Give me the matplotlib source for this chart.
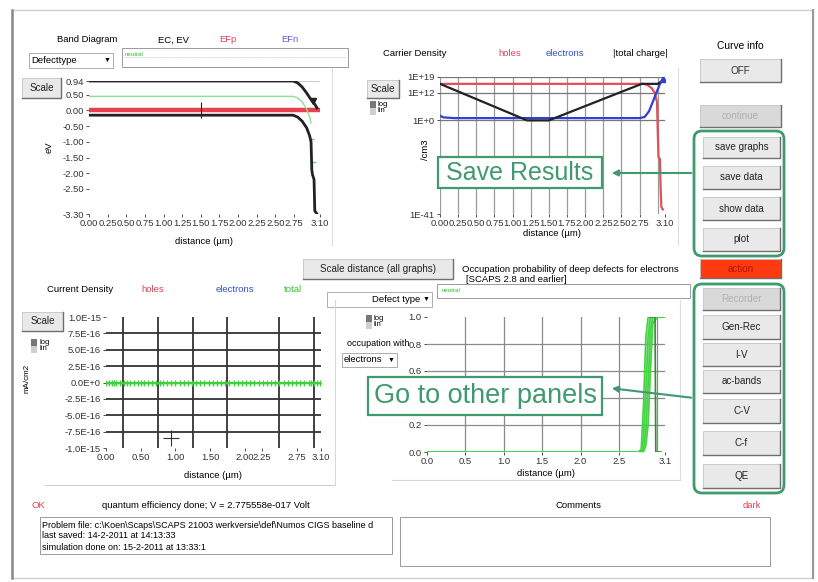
import matplotlib.pyplot as plt
import numpy as np
from matplotlib.patches import Rectangle, FancyBboxPatch

plt.rcParams['font.family'] = ['Liberation Sans', 'DejaVu Sans']

W, H = 818, 582
GREEN = '#3f9a6e'
FS = 6.8

# ---- band diagram (eV vs distance, um)
ec_x = [0.0, 1.0, 2.0, 2.74, 2.80, 2.86, 2.92, 2.97, 3.00, 3.03, 3.06]
ec_y = [0.94, 0.94, 0.94, 0.94, 0.88, 0.75, 0.56, 0.38, 0.28, 0.20, 0.08]
ev_x = [0.0, 1.0, 2.0, 2.74, 2.80, 2.86, 2.92, 2.96, 2.98, 2.99, 3.00, 3.02, 3.03, 3.06]
ev_y = [-0.15, -0.15, -0.15, -0.15, -0.21, -0.34, -0.55, -0.80, -1.00, -1.90, -2.05, -2.20, -3.20, -3.30]
ei_x = [0.0, 1.0, 2.0, 2.74, 2.80, 2.86, 2.92, 2.96, 2.98]
ei_y = [0.45, 0.45, 0.45, 0.45, 0.40, 0.28, 0.05, -0.20, -0.40]
ei_dot_x = [2.99, 3.02]
ei_dot_y = [-0.90, -1.65]
ef_x = [0.0, 3.07]
ef_y = [0.0, 0.0]
bd_xticks = [0.0, 0.25, 0.5, 0.75, 1.0, 1.25, 1.5, 1.75, 2.0, 2.25, 2.5, 2.75, 3.10]
bd_yticks = [0.94, 0.50, 0.00, -0.50, -1.00, -1.50, -2.00, -2.50, -3.30]

# ---- carrier density, log10(/cm3)
holes_x = [0.0, 2.80, 2.86, 2.92, 2.96, 2.99, 3.00, 3.01, 3.03, 3.04, 3.05, 3.07]
holes_exp = [16, 16, 15.5, 14, 12, 8, -5, -16, -17, -30, -38, -39]
elec_x = [0.0, 0.05, 0.2, 2.75, 2.82, 2.88, 2.93, 2.98, 3.03, 3.07]
elec_exp = [2, 1.3, 1, 1, 1.5, 4, 8, 12, 16, 18]
charge_x = [0.0, 1.2, 1.5, 2.78, 2.85, 3.0, 3.05, 3.07]
charge_exp = [16, 0, 0, 16, 16, 16, 17, 18]
cd_yticks = [1e19, 1e12, 1e0, 1e-41]
cd_ylabels = ['1E+19', '1E+12', '1E+0', '1E-41']

# ---- current density (mA/cm2), all zero at V = 0
cur_x = [0.0, 0.04, 0.08, 0.12, 0.15, 0.2, 0.26, 0.3, 0.34, 0.4, 0.46, 0.5, 0.55, 0.6,
         0.66, 0.72, 0.78, 0.82, 0.88, 0.94, 1.0, 1.06, 1.12, 1.18, 1.24, 1.3, 1.36,
         1.42, 1.48, 1.54, 1.6, 1.66, 1.72, 1.78, 1.84, 1.9, 1.96, 2.02, 2.08, 2.14,
         2.2, 2.26, 2.32, 2.38, 2.44, 2.5, 2.56, 2.62, 2.68, 2.74, 2.8, 2.86, 2.92,
         2.96, 3.0, 3.04, 3.08]
cur_total = [0.0] * len(cur_x)
cur_xticks = [0.0, 0.5, 1.0, 1.5, 2.0, 2.25, 2.75, 3.10]
cur_yticks = [1e-15, 7.5e-16, 5e-16, 2.5e-16, 0.0, -2.5e-16, -5e-16, -7.5e-16, -1e-15]
cur_ylabels = ['1.0E-15', '7.5E-16', '5.0E-16', '2.5E-16', '0.0E+0',
               '-2.5E-16', '-5.0E-16', '-7.5E-16', '-1.0E-15']
cur_grid = [0.25, 0.5, 0.75, 1.0, 1.25, 1.5, 1.75, 2.0, 2.25, 2.5, 2.75, 3.0]

# ---- occupation probability of the neutral defect
occ_x = [0.0, 2.75, 2.79, 2.82, 2.85, 2.88, 2.91, 2.94, 3.0, 3.05, 3.1]
occ_a = [0, 0, 0.02, 0.35, 0.85, 1, 1, 1, 1, 1, 1]
occ_b = [0, 0, 0, 0.10, 0.45, 0.85, 1, 1, 1, 1, 1]
occ_c = [0, 0, 0, 0.02, 0.15, 0.50, 0.90, 1, 1, 1, 1]
occ_d = [0, 0, 0, 0, 0.05, 0.20, 0.60, 0.95, 1, 1, 1]
occ_edge_x = [2.9, 2.97, 2.98, 3.05]
occ_edge_y = [1.0, 1.0, 0.0, 0.0]
occ_xticks = [0.0, 0.5, 1.0, 1.5, 2.0, 2.5, 3.1]
occ_yticks = [0.0, 0.2, 0.4, 0.6, 0.8, 1.0]
occ_ylabels = ['0.0', '0.2', '', '0.6', '0.8', '1.0']  # 0.4 sits under the callout

fig = plt.figure(figsize=(W / 100, H / 100), dpi=100)
fig.patch.set_facecolor('white')

ui = fig.add_axes([0, 0, 1, 1], zorder=0)
ui.set_xlim(0, W)
ui.set_ylim(H, 0)
ui.axis('off')


def panel_axes(x0, y0, x1, y1):
    ax = fig.add_axes([x0 / W, 1 - y1 / H, (x1 - x0) / W, (y1 - y0) / H], zorder=2)
    ax.patch.set_alpha(0)
    for s in ax.spines.values():
        s.set_visible(False)
    ax.tick_params(labelsize=FS, length=2.5, width=0.6, pad=1.2, colors='#333333')
    ax.set_xlim(0, 3.1)
    return ax


def button(x0, y0, x1, y1, label, fc='#e9e9e9', tc='#222222'):
    ui.add_patch(Rectangle((x0, y0), x1 - x0, y1 - y0, fc=fc, ec='#c4c4c4', lw=0.6))
    ui.plot([x0, x1, x1], [y1, y1, y0], color='#6f6f6f', lw=1.0)
    ui.text((x0 + x1) / 2, (y0 + y1) / 2, label, ha='center', va='center',
            fontsize=FS + 0.3, color=tc)


def dropdown(x0, y0, x1, y1, label, right=False):
    ui.add_patch(Rectangle((x0, y0), x1 - x0, y1 - y0, fc='white', ec='#a0a0a0', lw=0.6))
    if right:
        ui.text(x1 - 12, (y0 + y1) / 2, label, ha='right', va='center', fontsize=FS)
    else:
        ui.text(x0 + 2, (y0 + y1) / 2, label, ha='left', va='center', fontsize=FS)
    ui.text(x1 - 6, (y0 + y1) / 2, '▼', ha='center', va='center', fontsize=5)


def loglin(x, y, log_on=True):
    ui.add_patch(Rectangle((x, y), 6, 7, fc='#777777' if log_on else '#cfcfcf', lw=0))
    ui.add_patch(Rectangle((x, y + 7), 6, 7, fc='#cfcfcf' if log_on else '#777777', lw=0))
    ui.text(x + 8, y + 3.5, 'log', fontsize=5.5, va='center')
    ui.text(x + 8, y + 9.5, 'lin', fontsize=5.5, va='center')


def textbox(x0, y0, x1, y1):
    ui.add_patch(Rectangle((x0, y0), x1 - x0, y1 - y0, fc='white', ec='#9a9a9a', lw=0.7))


# outer window frame
ui.add_patch(Rectangle((12, 10), 801, 568, fc='white', ec='#cfcfcf', lw=1.0))
ui.plot([12, 12], [10, 578], color='#8a8a8a', lw=1.8)
ui.plot([813, 813], [10, 578], color='#9a9a9a', lw=1.5)

# panel borders
ui.plot([332, 332], [68, 245], color='#dddddd', lw=0.8)
ui.plot([678, 678], [68, 245], color='#dddddd', lw=0.8)
ui.plot([45, 335], [485, 485], color='#d0d0d0', lw=0.8)
ui.plot([335, 335], [300, 485], color='#d8d8d8', lw=0.8)
ui.plot([680, 680], [300, 480], color='#dddddd', lw=0.8)
ui.plot([392, 680], [480, 480], color='#d8d8d8', lw=0.8)

# ---------------- band diagram panel
ui.text(87, 40, 'Band Diagram', ha='center', va='center', fontsize=FS)
ui.text(174, 40, 'EC, EV', ha='center', va='center', fontsize=FS)
ui.text(228, 40, 'EFp', ha='center', va='center', fontsize=FS, color='#e0405a')
ui.text(290, 40, 'EFn', ha='center', va='center', fontsize=FS, color='#6060d0')
dropdown(29, 53, 113, 68, 'Defecttype')
textbox(122, 48, 348, 67)
ui.plot([124, 346], [57, 57], color='#bbbbbb', lw=0.5, ls=(0, (1, 1)))
ui.text(125, 55, 'neutral', fontsize=4.5, color='#30c030', va='center')
button(22, 78, 61, 98, 'Scale')
ui.text(49, 147, 'eV', rotation=90, ha='center', va='center', fontsize=FS)
ui.text(204, 241, 'distance (µm)', ha='center', va='center', fontsize=FS)

ax1 = panel_axes(89, 81, 320, 214)
ax1.set_ylim(-3.3, 0.94)
ax1.plot([0, 3.1], [0.94, 0.94], color='#cccccc', lw=0.8)
ax1.plot(ef_x, ef_y, color='#e8404f', lw=3.2)
ax1.plot(ei_x, ei_y, color='#8ee08e', lw=1.0)
ax1.plot(ei_dot_x, ei_dot_y, ls='none', marker='_', color='#60d060', ms=3)
ax1.plot(ec_x, ec_y, color='#222222', lw=2.0)
ax1.plot(ev_x, ev_y, color='#222222', lw=2.0)
ax1.plot([3.0], [0.3], marker='v', color='#222222', ms=4)
ax1.plot([1.5], [0.0], marker='|', color='#222222', ms=12, mew=0.8)
ax1.set_xticks(bd_xticks)
ax1.set_xticklabels(['%.2f' % v for v in bd_xticks])
ax1.set_yticks(bd_yticks)
ax1.set_yticklabels(['%.2f' % v for v in bd_yticks])

# ---------------- carrier density panel
ui.text(415, 53, 'Carrier Density', ha='center', va='center', fontsize=FS)
ui.text(510, 53, 'holes', ha='center', va='center', fontsize=FS, color='#e0405a')
ui.text(565, 53, 'electrons', ha='center', va='center', fontsize=FS, color='#3050d0')
ui.text(640, 53, '|total charge|', ha='center', va='center', fontsize=FS)
button(367, 80, 399, 98, 'Scale')
loglin(370, 101)
ui.text(425, 150, '/cm3', rotation=90, ha='center', va='center', fontsize=FS)
ui.text(552, 234, 'distance (µm)', ha='center', va='center', fontsize=FS)

ax2 = panel_axes(440, 77, 665, 214)
ax2.set_yscale('log')
ax2.set_ylim(1e-41, 1e19)
for gx in bd_xticks[:-1] + [3.0]:
    ax2.axvline(gx, color='#9a9a9a', lw=0.9)
for gy in cd_yticks[:3]:
    ax2.axhline(gy, color='#777777', lw=0.9)
ax2.plot(holes_x, 10.0 ** np.array(holes_exp), color='#e0505a', lw=1.6)
ax2.plot(elec_x, 10.0 ** np.array(elec_exp), color='#3040d0', lw=1.6)
ax2.plot(charge_x, 10.0 ** np.array(charge_exp), color='#222222', lw=1.6)
ax2.plot([3.07], [1e18], marker='^', color='#3040d0', ms=4)
ax2.set_xticks(bd_xticks)
ax2.set_xticklabels(['%.2f' % v for v in bd_xticks])
ax2.set_yticks(cd_yticks)
ax2.set_yticklabels(cd_ylabels)
ax2.minorticks_off()

# ---------------- right column of buttons
ui.text(740, 46, 'Curve info', ha='center', va='center', fontsize=FS + 0.6)
button(700, 59, 781, 82, 'OFF', tc='#333333')
button(700, 105, 781, 127, 'continue', fc='#d9d9d9', tc='#b0b0b0')
button(703, 137, 780, 158, 'save graphs')
button(703, 166, 780, 189, 'save data')
button(703, 197, 780, 220, 'show data')
button(703, 228, 780, 251, 'plot')
button(700, 259, 781, 278, 'action', fc='#ff3a10', tc='#b01800')
button(703, 288, 780, 310, 'Recorder', fc='#d9d9d9', tc='#b0b0b0')
button(703, 315, 780, 339, 'Gen-Rec')
button(703, 343, 780, 366, 'I-V')
button(703, 370, 780, 393, 'ac-bands')
button(703, 399, 780, 423, 'C-V')
button(703, 431, 780, 455, 'C-f')
button(703, 464, 780, 488, 'QE')

# ---------------- current density panel
ui.text(80, 290, 'Current Density', ha='center', va='center', fontsize=FS)
ui.text(153, 290, 'holes', ha='center', va='center', fontsize=FS, color='#e0405a')
ui.text(235, 290, 'electrons', ha='center', va='center', fontsize=FS, color='#3050d0')
ui.text(293, 290, 'total', ha='center', va='center', fontsize=FS, color='#30c030')
button(22, 312, 63, 331, 'Scale')
loglin(31, 339)
ui.text(27, 378, 'mA/cm2', rotation=90, ha='center', va='center', fontsize=FS - 1)
ui.text(213, 476, 'distance (µm)', ha='center', va='center', fontsize=FS)

ax3 = panel_axes(106, 317, 321, 448)
ax3.set_ylim(-1e-15, 1e-15)
ax3.set_xticks(cur_grid, minor=True)
ax3.grid(which='minor', axis='x', color='#333333', lw=1.3)
for gy in cur_yticks[1:-1]:
    ax3.axhline(gy, color='#333333', lw=1.3)
ax3.plot(cur_x, cur_total, color='#40d040', lw=1.4, marker='+', ms=5, mew=1.0)
ax3.plot([0.93], [-8.5e-16], marker='+', color='#333333', ms=12, mew=0.8)
ax3.tick_params(which='minor', length=0)
ax3.set_xticks(cur_xticks)
ax3.set_xticklabels(['%.2f' % v for v in cur_xticks])
ax3.set_yticks(cur_yticks)
ax3.set_yticklabels(cur_ylabels)

# ---------------- occupation panel
button(303, 259, 453, 279, 'Scale distance (all graphs)')
ui.text(462, 269, 'Occupation probability of deep defects for electrons', va='center', fontsize=FS)
ui.text(466, 280, '[SCAPS 2.8 and earlier]', va='center', fontsize=FS)
dropdown(327, 292, 432, 307, 'Defect type', right=True)
textbox(437, 284, 690, 298)
ui.text(442, 290, 'neutral', fontsize=4.5, color='#30c030', va='center')
loglin(366, 315)
ui.text(378, 343, 'occupation with', ha='center', va='center', fontsize=FS - 0.3)
dropdown(342, 353, 397, 367, 'electrons')
ui.text(546, 474, 'distance (µm)', ha='center', va='center', fontsize=FS)

ax4 = panel_axes(427, 317, 665, 452)
ax4.set_ylim(0, 1)
for gx in occ_xticks[1:-1] + [3.0]:
    ax4.axvline(gx, color='#8a8a8a', lw=0.9)
for gy in occ_yticks[1:-1]:
    ax4.axhline(gy, color='#8a8a8a', lw=0.9)
ax4.fill_between(occ_x, occ_a, occ_d, color='#9be89b', lw=0)
for occ in (occ_a, occ_b, occ_c, occ_d):
    ax4.plot(occ_x, occ, color='#44d444', lw=1.2)
ax4.plot(occ_edge_x, occ_edge_y, color='#2f8f2f', lw=1.2)
ax4.set_xticks(occ_xticks)
ax4.set_xticklabels(['%.1f' % v for v in occ_xticks])
ax4.set_yticks(occ_yticks)
ax4.set_yticklabels(occ_ylabels)

# ---------------- status line and text boxes
ui.text(38, 505, 'OK', ha='center', va='center', fontsize=FS, color='#e04050')
ui.text(206, 505, 'quantum efficiency done; V = 2.775558e-017 Volt', ha='center',
        va='center', fontsize=FS)
ui.text(578, 505, 'Comments', ha='center', va='center', fontsize=FS)
ui.text(752, 505, 'dark', ha='center', va='center', fontsize=FS, color='#e04050')
textbox(40, 517, 392, 554)
ui.text(42, 525, r'Problem file: c:\Koen\Scaps\SCAPS 21003 werkversie\def\Numos CIGS baseline d',
        va='center', fontsize=FS - 0.3)
ui.text(42, 535, 'last saved: 14-2-2011 at 14:13:33', va='center', fontsize=FS - 0.3)
ui.text(42, 547, 'simulation done on: 15-2-2011 at 13:33:1', va='center', fontsize=FS - 0.3)
textbox(400, 517, 770, 566)

# ---------------- callouts
top = fig.add_axes([0, 0, 1, 1], zorder=10)
top.set_xlim(0, W)
top.set_ylim(H, 0)
top.axis('off')
top.add_patch(FancyBboxPatch((694, 131), 90, 125, boxstyle='round,pad=0,rounding_size=8',
                             fc='none', ec=GREEN, lw=2.0))
top.add_patch(FancyBboxPatch((694, 284), 90, 209, boxstyle='round,pad=0,rounding_size=8',
                             fc='none', ec=GREEN, lw=2.0))
top.add_patch(Rectangle((438, 157), 164, 31, fc='white', ec=GREEN, lw=1.6))
top.text(520, 173, 'Save Results', ha='center', va='center', fontsize=18, color=GREEN)
top.annotate('', xy=(609, 173), xytext=(694, 173),
             arrowprops=dict(arrowstyle='-|>', color=GREEN, lw=1.5, mutation_scale=9))
top.add_patch(Rectangle((368, 377), 234, 38, fc='white', ec=GREEN, lw=1.6))
top.text(485, 396, 'Go to other panels', ha='center', va='center', fontsize=19.5, color=GREEN)
top.annotate('', xy=(609, 388), xytext=(694, 398),
             arrowprops=dict(arrowstyle='-|>', color=GREEN, lw=1.5, mutation_scale=9))

fig.savefig('out.png', dpi=100)
